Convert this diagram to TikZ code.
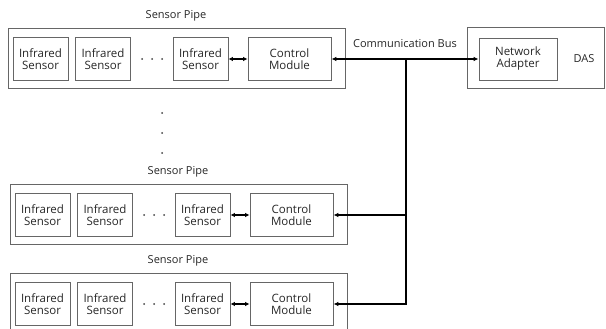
\documentclass[tikz,border=0pt]{standalone}
\usepackage{fontspec}
\setmainfont{Open Sans}
\usepackage{tikz}
\usetikzlibrary{arrows.meta, calc, positioning}

\tikzset{
  box/.style={draw=black!60, line width=0.8pt, text=black!85, align=center, inner sep=0pt,
    font=\fontsize{11.5}{12}\selectfont},
  sensor/.style={box, minimum width=55, minimum height=43},
  module/.style={box, minimum width=83, minimum height=43},
  pipe/.style={draw=black!60, line width=0.8pt, minimum width=337, minimum height=60, inner sep=0pt},
  title/.style={text=black!85, inner sep=0pt, font=\fontsize{11}{12}\selectfont},
  link/.style={line width=1.3pt, {Latex[length=4.5pt,width=4.5pt]}-{Latex[length=4.5pt,width=4.5pt]}},
  bus/.style={line width=1.8pt, -{Latex[length=5pt,width=4.5pt]}}
}

\providecommand{\SensorPipe}[3]{%
  % #1 name, #2 left edge, #3 middle line
  \edef\px{#2}%
  \edef\py{#3}%
  \node[pipe, anchor=north west] (#1pipe) at (\px, \py-31) {};
  \node[title] (#1title) at (\px+168, \py-43) {Sensor Pipe};

  \node[sensor] (#1sa) at (\px+32.5, \py) {Infrared\\Sensor};
  \node[sensor] (#1sb) at (\px+95, \py) {Infrared\\Sensor};
  \node[sensor] (#1sc) at (\px+192.5, \py) {Infrared\\Sensor};
  \node[module] (#1cm) at (\px+281.5, \py) {Control\\Module};

  \foreach \d in {-10,0,10}
    \fill[black!75] (\px+144+\d, \py) circle (1);

  \draw[link] (#1sc) -- (#1cm);
}

\begin{document}
\begin{tikzpicture}[x=1pt, y=-1pt]

	\useasboundingbox (0,0) rectangle (606,329);
	\clip (0,0) rectangle (606,329);

	\SensorPipe{top}{8}{59}
	\SensorPipe{mid}{10}{215}
	\SensorPipe{bot}{10}{304}

	% the vertical dots between the pipes
	\foreach \y in {113,133,153}
	  \fill[black!75] (162,\y) circle (1);

	% DAS side
	\node[pipe, minimum width=137, minimum height=61, anchor=north west] (das) at (467,27) {};
	\node[box, minimum width=78, minimum height=42] (na) at (518,59) {Network\\Adapter};
	\node[title] (dastext) at (584,59) {DAS};

	\node[title] (buslabel) at (405,44) {Communication Bus};
	\coordinate (tap) at (406,59);

	\draw[bus, {Latex[length=5pt,width=4.5pt]}-{Latex[length=5pt,width=4.5pt]}] (topcm) -- (na);
	\draw[bus] (tap) |- (botcm.east);
	\draw[bus] (tap |- midcm.east) -- (midcm.east);

\end{tikzpicture}
\end{document}
